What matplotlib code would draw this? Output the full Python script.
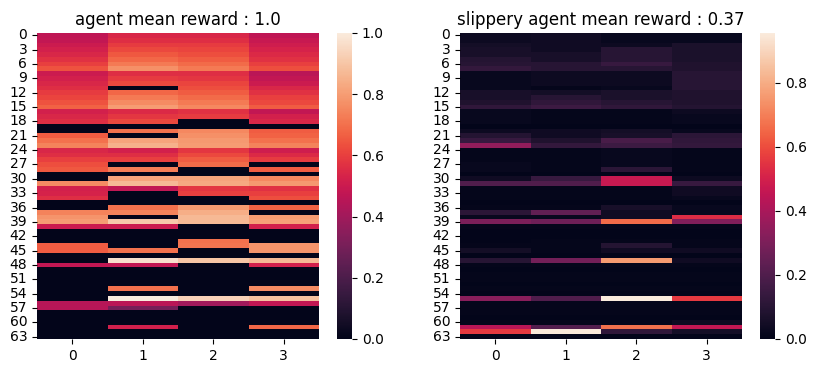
import numpy as np
import matplotlib
matplotlib.use('Agg')
import matplotlib.pyplot as plt
import seaborn as sns

# Q-tables (64 states x 4 actions: left, down, right, up)
actions = [0, 1, 2, 3]
state_ticks = list(range(0, 64, 3))

titles = ["agent mean reward : 1.0", "slippery agent mean reward : 0.37"]

q_agent = [
    # states 0-7
    [0.47, 0.54, 0.54, 0.47], [0.48, 0.56, 0.56, 0.49], [0.50, 0.59, 0.59, 0.51], [0.52, 0.62, 0.61, 0.53],
    [0.54, 0.65, 0.63, 0.55], [0.57, 0.68, 0.66, 0.57], [0.60, 0.72, 0.69, 0.60], [0.64, 0.77, 0.72, 0.63],
    # states 8-15
    [0.50, 0.56, 0.56, 0.46], [0.52, 0.59, 0.58, 0.48], [0.54, 0.62, 0.61, 0.50], [0.56, 0.00, 0.63, 0.54],
    [0.59, 0.68, 0.66, 0.57], [0.61, 0.72, 0.69, 0.60], [0.64, 0.76, 0.72, 0.62], [0.67, 0.80, 0.75, 0.66],
    # states 16-23
    [0.52, 0.55, 0.57, 0.48], [0.54, 0.58, 0.59, 0.52], [0.56, 0.62, 0.00, 0.54], [0.00, 0.00, 0.00, 0.00],
    [0.00, 0.70, 0.75, 0.66], [0.66, 0.00, 0.77, 0.67], [0.70, 0.82, 0.79, 0.70], [0.74, 0.85, 0.80, 0.74],
    # states 24-31
    [0.54, 0.52, 0.58, 0.51], [0.56, 0.56, 0.62, 0.55], [0.60, 0.60, 0.66, 0.59], [0.63, 0.00, 0.69, 0.00],
    [0.65, 0.73, 0.00, 0.66], [0.00, 0.00, 0.00, 0.00], [0.00, 0.82, 0.82, 0.75], [0.76, 0.87, 0.83, 0.79],
    # states 32-39
    [0.52, 0.48, 0.58, 0.57], [0.53, 0.00, 0.60, 0.60], [0.56, 0.00, 0.00, 0.63], [0.00, 0.00, 0.00, 0.00],
    [0.00, 0.70, 0.79, 0.67], [0.74, 0.74, 0.84, 0.00], [0.78, 0.00, 0.87, 0.80], [0.80, 0.91, 0.87, 0.81],
    # states 40-47
    [0.50, 0.50, 0.00, 0.52], [0.00, 0.00, 0.00, 0.00], [0.00, 0.00, 0.00, 0.00], [0.00, 0.00, 0.70, 0.00],
    [0.66, 0.00, 0.71, 0.78], [0.66, 0.70, 0.00, 0.78], [0.00, 0.00, 0.00, 0.00], [0.00, 0.97, 0.90, 0.87],
    # states 48-55
    [0.48, 0.48, 0.00, 0.52], [0.00, 0.00, 0.00, 0.00], [0.00, 0.00, 0.00, 0.00], [0.00, 0.00, 0.00, 0.00],
    [0.00, 0.00, 0.00, 0.00], [0.00, 0.70, 0.00, 0.76], [0.00, 0.00, 0.00, 0.00], [0.00, 1.00, 0.93, 0.89],
    # states 56-63
    [0.45, 0.46, 0.40, 0.48], [0.45, 0.30, 0.00, 0.00], [0.00, 0.00, 0.00, 0.00], [0.00, 0.00, 0.00, 0.00],
    [0.00, 0.00, 0.00, 0.00], [0.00, 0.52, 0.00, 0.68], [0.00, 0.00, 0.00, 0.00], [0.00, 0.00, 0.00, 0.00],
]

q_slippery = [
    # states 0-7
    [0.03, 0.04, 0.02, 0.02], [0.03, 0.04, 0.02, 0.02], [0.05, 0.04, 0.03, 0.07], [0.06, 0.04, 0.10, 0.07],
    [0.06, 0.06, 0.10, 0.07], [0.09, 0.06, 0.10, 0.07], [0.10, 0.10, 0.14, 0.08], [0.13, 0.10, 0.10, 0.08],
    # states 8-15
    [0.02, 0.03, 0.03, 0.10], [0.02, 0.03, 0.03, 0.10], [0.02, 0.03, 0.03, 0.10], [0.02, 0.01, 0.02, 0.10],
    [0.06, 0.05, 0.07, 0.08], [0.06, 0.10, 0.07, 0.08], [0.08, 0.12, 0.10, 0.08], [0.12, 0.15, 0.12, 0.09],
    # states 16-23
    [0.02, 0.01, 0.01, 0.03], [0.02, 0.01, 0.01, 0.02], [0.02, 0.01, 0.01, 0.02], [0.00, 0.00, 0.00, 0.00],
    [0.03, 0.04, 0.05, 0.02], [0.09, 0.04, 0.06, 0.11], [0.14, 0.08, 0.18, 0.12], [0.35, 0.13, 0.15, 0.13],
    # states 24-31
    [0.01, 0.01, 0.02, 0.01], [0.01, 0.01, 0.02, 0.01], [0.01, 0.01, 0.02, 0.01], [0.02, 0.01, 0.02, 0.01],
    [0.02, 0.01, 0.11, 0.01], [0.00, 0.00, 0.00, 0.00], [0.04, 0.14, 0.47, 0.03], [0.20, 0.20, 0.47, 0.14],
    # states 32-39
    [0.01, 0.01, 0.01, 0.04], [0.01, 0.01, 0.01, 0.04], [0.01, 0.01, 0.01, 0.02], [0.00, 0.00, 0.00, 0.00],
    [0.01, 0.01, 0.06, 0.02], [0.11, 0.24, 0.04, 0.02], [0.02, 0.02, 0.04, 0.53], [0.30, 0.27, 0.66, 0.31],
    # states 40-47
    [0.01, 0.01, 0.01, 0.01], [0.00, 0.00, 0.00, 0.00], [0.00, 0.00, 0.00, 0.00], [0.00, 0.01, 0.01, 0.01],
    [0.01, 0.01, 0.09, 0.01], [0.05, 0.01, 0.04, 0.04], [0.00, 0.00, 0.00, 0.00], [0.10, 0.28, 0.76, 0.04],
    # states 48-55
    [0.01, 0.01, 0.01, 0.01], [0.00, 0.00, 0.00, 0.00], [0.01, 0.01, 0.01, 0.01], [0.01, 0.01, 0.01, 0.01],
    [0.00, 0.00, 0.00, 0.00], [0.01, 0.01, 0.01, 0.01], [0.00, 0.00, 0.00, 0.00], [0.33, 0.20, 0.955, 0.56],
    # states 56-63
    [0.01, 0.01, 0.01, 0.01], [0.01, 0.01, 0.01, 0.01], [0.01, 0.01, 0.01, 0.01], [0.00, 0.00, 0.00, 0.00],
    [0.01, 0.01, 0.01, 0.03], [0.44, 0.21, 0.67, 0.46], [0.56, 0.95, 0.12, 0.05], [0.00, 0.00, 0.00, 0.00],
]

W, H = 816, 374
fig = plt.figure(figsize=(W / 100, H / 100), dpi=100)


def px_rect(x0, y0, x1, y1):
    # pixel box (top-left origin) -> figure fraction rect
    return (x0 / W, 1 - y1 / H, (x1 - x0) / W, (y1 - y0) / H)


layout = [
    (px_rect(37, 33, 319, 339), px_rect(337, 33, 352, 339)),
    (px_rect(460, 33, 742, 339), px_rect(760, 33, 775, 339)),
]

for (rect, crect), q, title in zip(layout, [q_agent, q_slippery], titles):
    ax = fig.add_axes(rect)
    cax = fig.add_axes(crect)
    sns.heatmap(np.array(q), ax=ax, cbar_ax=cax, cmap='rocket')
    ax.set_xticks(np.array(actions) + 0.5)
    ax.set_xticklabels([str(a) for a in actions], rotation=0, fontsize=10)
    ax.set_yticks(np.array(state_ticks) + 0.5)
    ax.set_yticklabels([str(s) for s in state_ticks], rotation=0, fontsize=10)
    cax.tick_params(labelsize=10)
    ax.set_title(title, fontsize=12)

fig.savefig('out.png', dpi=100)
